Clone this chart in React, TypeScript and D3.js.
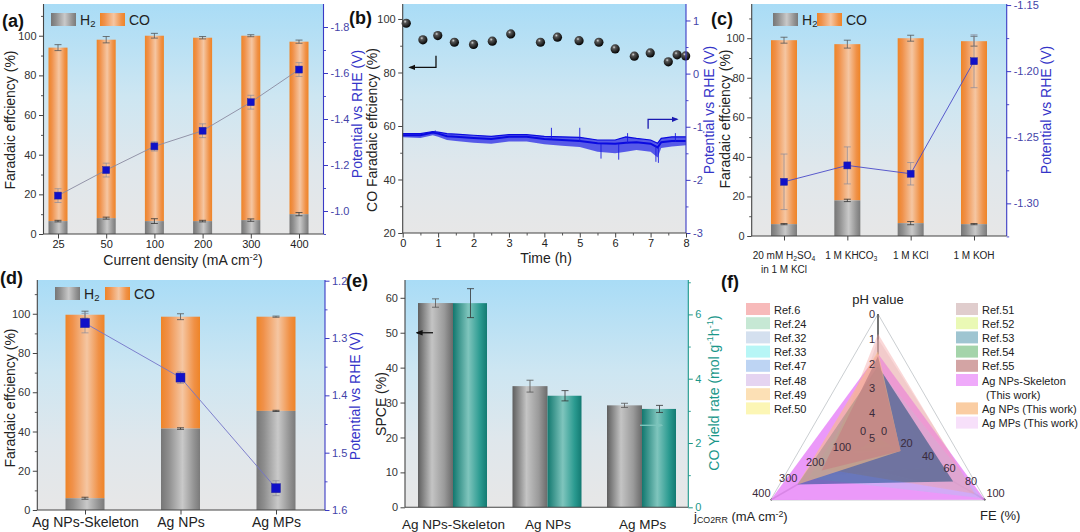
import React, { useEffect, useRef } from "react";
import * as d3 from "d3";

const FONT = "Arial, 'Liberation Sans', Helvetica, sans-serif";
const W = 1080;
const H = 532;

// ---------------- (a) ----------------
const aCats = ["25", "50", "100", "200", "300", "400"];
const aH2 = [6.5, 8, 6.5, 6.5, 7, 10];
const aTotal = [94, 98, 100, 99, 100, 97];
const aH2Err = [0.4, 0.5, 1.2, 0.4, 0.6, 0.8];
const aTotErr = [1.5, 1.6, 1.2, 0.6, 0.5, 0.8];
const aPot = [-1.067, -1.178, -1.281, -1.349, -1.473, -1.615];
const aPotErr = [0.03, 0.03, 0.02, 0.03, 0.03, 0.03];
const aLeftTicks = [0, 20, 40, 60, 80, 100];
const aRightTicks = [-1.0, -1.2, -1.4, -1.6, -1.8];

// ---------------- (b) ----------------
const bTime = [0.1, 0.57, 0.99, 1.46, 2.0, 2.53, 3.05, 3.89, 4.37, 4.98, 5.54, 6.0, 6.54, 6.99, 7.5, 7.75, 7.99];
const bFE = [98.4, 92.2, 93.8, 91.3, 90.5, 91.7, 94.4, 91.3, 93.2, 91.9, 91.3, 88.8, 86.1, 87.3, 84.0, 86.6, 86.2];
const bBandT = [0, 0.5, 0.85, 1.0, 1.25, 1.5, 2.0, 2.5, 3.0, 3.5, 4.0, 4.5, 5.0, 5.5, 6.0, 6.3, 6.6, 7.0, 7.2, 7.3, 7.6, 8.0];
const bBandHi = [-1.13, -1.13, -1.09, -1.1, -1.13, -1.14, -1.16, -1.18, -1.15, -1.15, -1.18, -1.19, -1.2, -1.25, -1.25, -1.19, -1.22, -1.25, -1.31, -1.22, -1.19, -1.19];
const bBandMid = [-1.16, -1.16, -1.11, -1.13, -1.18, -1.19, -1.21, -1.23, -1.19, -1.19, -1.23, -1.25, -1.27, -1.31, -1.32, -1.3, -1.29, -1.32, -1.39, -1.29, -1.27, -1.27];
const bBandLo = [-1.2, -1.21, -1.16, -1.19, -1.25, -1.27, -1.3, -1.32, -1.28, -1.28, -1.33, -1.36, -1.38, -1.47, -1.5, -1.47, -1.44, -1.47, -1.58, -1.4, -1.37, -1.35];
const bSpikeT = [0.92, 4.2, 5.0, 5.6, 6.1, 6.35, 7.15, 7.22, 7.7];
const bSpikeFrom = [-1.12, -1.24, -1.28, -1.32, -1.32, -1.31, -1.36, -1.4, -1.28];
const bSpikeTo = [-1.07, -1.02, -1.02, -1.6, -1.62, -1.12, -1.66, -1.68, -1.12];
const bLeftTicks = [20, 40, 60, 80, 100];
const bRightTicks = [-3, -2, -1, 0, 1];
const bTimeTicks = [0, 1, 2, 3, 4, 5, 6, 7, 8];
// annotation arrows: [t, value] in data coordinates
const bArrowLeft = [[0.94, 86.3], [0.94, 81.9], [0.2, 81.9]];
const bArrowRight = [[6.93, -1.04], [6.93, -0.86], [7.75, -0.86]];

// ---------------- (c) ----------------
const cCats = ["H2SO4", "KHCO3", "KCl", "KOH"];
const cH2 = [6, 18, 6.5, 6];
const cTotal = [99, 97, 100, 98.5];
const cH2Err = [0.3, 0.6, 0.8, 0.3];
const cTotErr = [1.5, 2, 1.5, 2.5];
const cPot = [-1.2837, -1.2713, -1.2776, -1.1925];
const cPotErr = [0.021, 0.014, 0.0085, 0.02];
const cRightTicks = [-1.3, -1.25, -1.2, -1.15];

// ---------------- (d) ----------------
const dCats = ["Ag NPs-Skeleton", "Ag NPs", "Ag MPs"];
const dH2 = [6, 41.5, 50.5];
const dTotal = [99.5, 98.5, 98.5];
const dH2Err = [0.5, 0.4, 0.3];
const dTotErr = [1.8, 1.5, 0.3];
const dPot = [1.274, 1.369, 1.562];
const dPotErr = [0.017, 0.01, 0.013];
const dRightTicks = [1.2, 1.3, 1.4, 1.5, 1.6];

// ---------------- (e) ----------------
const eCats = ["Ag NPs-Skeleton", "Ag NPs", "Ag MPs"];
const eSPCE = [58.5, 34.7, 29.2];
const eSPCEErr = [1.2, 1.7, 0.6];
const eYield = [6.35, 3.47, 3.06];
const eYieldErr = [0.45, 0.16, 0.11];
const eLeftTicks = [0, 10, 20, 30, 40, 50, 60];
const eRightTicks = [0, 2, 4, 6];

// ---------------- (f) ----------------
const fNames = ["Ref.6", "Ref.24", "Ref.32", "Ref.33", "Ref.47", "Ref.48", "Ref.49", "Ref.50", "Ref.51", "Ref.52", "Ref.53", "Ref.54", "Ref.55", "Ag NPs-Skeleton", "Ag NPs (This work)", "Ag MPs (This work)"];
const fPH = [0.8, 7, 7.2, 6.8, 2.2, 7, 7.5, 7, 1.0, 8, 2.1, 7, 1.7, 1.6, 1.5, 1.6];
const fJ = [200, 80, 100, 60, 260, 90, 70, 50, 150, 100, 300, 85, 210, 400, 300, 250];
const fFE = [90, 15, 18, 12, 97, 16, 14, 10, 93, 20, 70, 18, 21, 99.5, 21, 48];
const fPalette = ["#f4a3a3", "#b3e0c6", "#c6d6ea", "#9ff3f3", "#a7c6ef", "#dcc6ec", "#fbd59c", "#fbf39c", "#d6bcbc", "#e3f79c", "#7fb2c2", "#86c58e", "#c48686", "#e98ef8", "#f8bc84", "#f4d6f8"];
const fAlpha = [0.42, 0.3, 0.3, 0.3, 0.38, 0.3, 0.3, 0.3, 0.35, 0.3, 1, 0.3, 0.85, 0.9, 0.6, 0.35];
const fBlend = ["normal", "normal", "normal", "normal", "normal", "normal", "normal", "normal", "normal", "normal", "multiply", "normal", "normal", "normal", "normal", "normal"];
const fDrawOrder = [8, 15, 13, 4, 0, 1, 2, 3, 5, 6, 7, 9, 11, 10, 14, 12];
const fPHTicks = [0, 1, 2, 3, 4, 5];
const fJTicks = [0, 100, 200, 300, 400];
const fFETicks = [0, 20, 40, 60, 80, 100];

// ----------------------------------------------------------------
const BLUE_AX = "#3a3ac4";
const BLUE_TX = "#4343a8";
const TEAL = "#1a978a";

function rich(sel: any, parts: any[]) {
  parts.forEach((p: any) => {
    const [t, k] = Array.isArray(p) ? p : [p, null];
    const ts = sel.append("tspan").text(t);
    if (k === "sub") ts.attr("font-size", "68%").attr("baseline-shift", "-22%");
    if (k === "sup") ts.attr("font-size", "68%").attr("baseline-shift", "48%");
  });
  return sel;
}

function txt(g: any, x: number, y: number, parts: any[], o: any = {}) {
  const t = g.append("text")
    .attr("x", x).attr("y", y)
    .attr("font-family", FONT)
    .attr("font-size", o.size ?? 14)
    .attr("fill", o.color ?? "#222")
    .attr("text-anchor", o.anchor ?? "start");
  if (o.weight) t.attr("font-weight", o.weight);
  if (o.rotate) {
    t.attr("x", 0).attr("y", 0).attr("transform", `translate(${x},${y}) rotate(${o.rotate})`).attr("dominant-baseline", "central");
  }
  rich(t, parts);
  return t;
}

function makeGen(kind: string, scale: any) {
  return kind === "left" ? d3.axisLeft(scale) : kind === "right" ? d3.axisRight(scale) : d3.axisBottom(scale);
}

function axis(g: any, kind: string, scale: any, pos: number, o: any) {
  const tr = kind === "bottom" ? `translate(0,${pos})` : `translate(${pos},0)`;
  if (o.minor) {
    const m = makeGen(kind, scale).tickValues(o.minor).tickSizeInner(2.5).tickSizeOuter(0).tickFormat(() => "");
    const mg = g.append("g").attr("transform", tr).call(m);
    mg.select(".domain").remove();
    mg.selectAll(".tick line").attr("stroke", o.color).attr("stroke-width", 0.9);
  }
  if (o.ticks) {
    const gen = makeGen(kind, scale).tickValues(o.ticks).tickSizeInner(o.len ?? 4.5).tickSizeOuter(0).tickPadding(o.pad ?? 2.5);
    if (o.fmt) gen.tickFormat(o.fmt);
    const a = g.append("g").attr("transform", tr).call(gen);
    a.select(".domain").remove();
    a.selectAll(".tick line").attr("stroke", o.color).attr("stroke-width", 1);
    if (o.noTickLines) a.selectAll(".tick line").remove();
    a.selectAll(".tick text").attr("fill", o.text ?? o.color).attr("font-size", o.size ?? 11).attr("font-family", FONT);
    if (o.noLabels) a.selectAll(".tick text").remove();
  }
  const [e0, e1] = o.extent;
  if (kind === "bottom") {
    g.append("line").attr("x1", e0).attr("x2", e1).attr("y1", pos).attr("y2", pos).attr("stroke", o.color).attr("stroke-width", 1.1);
  } else {
    g.append("line").attr("x1", pos).attr("x2", pos).attr("y1", e0).attr("y2", e1).attr("stroke", o.color).attr("stroke-width", 1.1);
  }
}

function errBar(g: any, cx: number, v: number, e: number, scale: any, color: string, cap: number, w = 0.8) {
  const y1 = scale(v - e);
  const y2 = scale(v + e);
  g.append("line").attr("x1", cx).attr("x2", cx).attr("y1", y1).attr("y2", y2).attr("stroke", color).attr("stroke-width", w);
  [y1, y2].forEach((yy) =>
    g.append("line").attr("x1", cx - cap).attr("x2", cx + cap).attr("y1", yy).attr("y2", yy).attr("stroke", color).attr("stroke-width", w)
  );
}

function legendH2CO(g: any, x: number, y: number, coOff: number) {
  g.append("rect").attr("x", x).attr("y", y).attr("width", 25).attr("height", 13).attr("fill", "url(#grayBar)");
  txt(g, x + 29, y + 12, ["H", ["2", "sub"]], { size: 14 });
  g.append("rect").attr("x", x + coOff).attr("y", y).attr("width", 25).attr("height", 13).attr("fill", "url(#orangeBar)");
  txt(g, x + coOff + 29, y + 12, ["CO"], { size: 14 });
}

function stacked(root: any, c: any) {
  const g = root.append("g");
  const x = d3.scalePoint().domain(c.cats).range(c.xRange);
  const y = d3.scaleLinear().domain([0, c.yMax]).range([c.bottom, c.top]);
  const yr = d3.scaleLinear().domain(c.potDomain).range([c.bottom, c.top]);
  g.append("rect").attr("x", c.left).attr("y", c.top).attr("width", c.right - c.left).attr("height", c.bottom - c.top).attr("fill", "url(#bg)");
  const idx = c.cats.map((_: any, i: number) => i);
  g.selectAll("rect.co").data(idx).join("rect").attr("class", "co")
    .attr("x", (i: number) => (x(c.cats[i]) as number) - c.barW / 2)
    .attr("width", c.barW)
    .attr("y", (i: number) => y(c.total[i]))
    .attr("height", (i: number) => y(c.h2[i]) - y(c.total[i]))
    .attr("fill", "url(#orangeBar)");
  g.selectAll("rect.h2").data(idx).join("rect").attr("class", "h2")
    .attr("x", (i: number) => (x(c.cats[i]) as number) - c.barW / 2)
    .attr("width", c.barW)
    .attr("y", (i: number) => y(c.h2[i]))
    .attr("height", (i: number) => y(0) - y(c.h2[i]))
    .attr("fill", "url(#grayBar)");
  idx.forEach((i: number) => {
    const cx = x(c.cats[i]) as number;
    errBar(g, cx, c.total[i], c.totErr[i], y, "#555", 3.5);
    errBar(g, cx, c.h2[i], c.h2Err[i], y, "#333", 3.5);
  });
  const line = d3.line().x((i: any) => x(c.cats[i]) as number).y((i: any) => yr(c.pot[i]));
  g.append("path").attr("d", line(idx)).attr("fill", "none").attr("stroke", c.lineColor).attr("stroke-width", 0.9);
  idx.forEach((i: number) => errBar(g, x(c.cats[i]) as number, c.pot[i], c.potErr[i], yr, c.potErrColor, 3.5, 0.7));
  g.selectAll("rect.mk").data(idx).join("rect").attr("class", "mk")
    .attr("x", (i: number) => (x(c.cats[i]) as number) - c.mk / 2)
    .attr("y", (i: number) => yr(c.pot[i]) - c.mk / 2)
    .attr("width", c.mk).attr("height", c.mk)
    .attr("fill", "#1010c8").attr("stroke", "#2a2a9a").attr("stroke-width", 0.5);
  axis(g, "left", y, c.left, { ticks: c.leftTicks, minor: c.leftMinor, color: "#444", text: "#333", extent: [c.top, c.bottom] });
  axis(g, "right", yr, c.right, { ticks: c.rightTicks, minor: c.rightMinor, fmt: c.rightFmt, color: BLUE_AX, text: BLUE_TX, extent: [c.top, c.bottom] });
  axis(g, "bottom", x, c.bottom, { ticks: c.cats, color: "#444", text: "#222", size: c.xSize ?? 11, noLabels: c.noXLabels, extent: [c.left, c.right], pad: c.xPad ?? 1.5 });
  return { g, x, y, yr };
}

function draw(svg: any) {
  const defs = svg.append("defs");
  const lin = (id: string, stops: any[], vertical = false) => {
    const gr = defs.append("linearGradient").attr("id", id).attr("x1", 0).attr("y1", 0).attr("x2", vertical ? 0 : 1).attr("y2", vertical ? 1 : 0);
    stops.forEach(([o, col]: any) => gr.append("stop").attr("offset", o).attr("stop-color", col));
  };
  lin("bg", [[0, "#a9dcf6"], [0.4, "#cde6f2"], [0.7, "#dfe7ec"], [1, "#e7e7e7"]], true);
  lin("orangeBar", [[0, "#ee8427"], [0.18, "#f0914a"], [0.55, "#f5c6a2"], [0.85, "#f09146"], [1, "#ee8427"]]);
  lin("grayBar", [[0, "#767676"], [0.2, "#8f8f8f"], [0.55, "#c9c9c9"], [0.85, "#929292"], [1, "#7a7a7a"]]);
  lin("grayE", [[0, "#5e5e5e"], [0.4, "#c4c4c4"], [0.75, "#9a9a9a"], [1, "#6a6a6a"]]);
  lin("tealE", [[0, "#12786f"], [0.45, "#7fc5bd"], [0.8, "#2a9a90"], [1, "#137a72"]]);
  const rg = defs.append("radialGradient").attr("id", "sphere").attr("cx", 0.38).attr("cy", 0.32).attr("r", 0.7);
  [[0, "#d8d8d8"], [0.25, "#555"], [1, "#000"]].forEach(([o, col]) => rg.append("stop").attr("offset", o).attr("stop-color", col));
  const marker = (id: string, col: string) =>
    defs.append("marker").attr("id", id).attr("viewBox", "0 0 10 10").attr("refX", 8).attr("refY", 5)
      .attr("markerWidth", 7).attr("markerHeight", 7).attr("orient", "auto").attr("markerUnits", "userSpaceOnUse")
      .append("path").attr("d", "M0,1 L10,5 L0,9 Z").attr("fill", col);
  marker("arBlack", "#111");
  marker("arBlue", "#1a1ab0");
  marker("arTeal", "#7cc4bc");

  svg.append("rect").attr("width", W).attr("height", H).attr("fill", "#fff");

  // ============ (a) ============
  const A = stacked(svg, {
    cats: aCats, h2: aH2, total: aTotal, h2Err: aH2Err, totErr: aTotErr, pot: aPot, potErr: aPotErr,
    left: 43.5, right: 323.5, top: 4, bottom: 234, xRange: [58, 299], barW: 19, yMax: 116,
    potDomain: [-0.9, -1.9], leftTicks: aLeftTicks, leftMinor: [10, 30, 50, 70, 90, 110],
    rightTicks: aRightTicks, rightMinor: [-0.9, -1.1, -1.3, -1.5, -1.7], rightFmt: (d: number) => d.toFixed(1),
    lineColor: "#8a8aa0", potErrColor: "#8a8a9a", mk: 7,
  });
  legendH2CO(A.g, 51, 13, 49);
  txt(svg, 10, 120, ["Faradaic effciency (%)"], { rotate: -90, anchor: "middle", size: 14 });
  txt(svg, 357, 114, ["Potential vs RHE (V)"], { rotate: -90, anchor: "middle", size: 14, color: "#3434c8" });
  txt(svg, 183, 265, ["Current density (mA cm", ["-2", "sup"], ")"], { anchor: "middle", size: 14 });
  txt(svg, 2, 27, ["(a)"], { size: 18, weight: "bold", color: "#111" });

  // ============ (b) ============
  {
    const g = svg.append("g");
    const L = 402.7, R = 686, T = 4, B = 233;
    const x = d3.scaleLinear().domain([0, 8]).range([L, R]);
    const y = d3.scaleLinear().domain([20, 105.6]).range([B, T]);
    const yr = d3.scaleLinear().domain([-3, 1.31]).range([B, T]);
    g.append("rect").attr("x", L).attr("y", T).attr("width", R - L).attr("height", B - T).attr("fill", "url(#bg)");
    const bi = bBandT.map((_, i) => i);
    const area = d3.area().x((i: any) => x(bBandT[i])).y0((i: any) => yr(bBandLo[i])).y1((i: any) => yr(bBandHi[i]));
    g.append("path").attr("d", area(bi)).attr("fill", "#2323e6").attr("fill-opacity", 0.72);
    const mid = d3.line().x((i: any) => x(bBandT[i])).y((i: any) => yr(bBandMid[i]));
    g.append("path").attr("d", mid(bi)).attr("fill", "none").attr("stroke", "#0a0ae0").attr("stroke-width", 2);
    const hiL = d3.line().x((i: any) => x(bBandT[i])).y((i: any) => yr(bBandHi[i]));
    g.append("path").attr("d", hiL(bi)).attr("fill", "none").attr("stroke", "#0a0ae0").attr("stroke-width", 1.2);
    bSpikeT.forEach((t, i) => {
      g.append("line").attr("x1", x(t)).attr("x2", x(t)).attr("y1", yr(bSpikeFrom[i])).attr("y2", yr(bSpikeTo[i])).attr("stroke", "#1a1ae0").attr("stroke-width", 0.9);
    });
    g.selectAll("circle.fe").data(bTime.map((_, i) => i)).join("circle").attr("class", "fe")
      .attr("cx", (i: number) => x(bTime[i])).attr("cy", (i: number) => y(bFE[i])).attr("r", 4.6).attr("fill", "url(#sphere)");
    const arr = d3.line().x((p: any) => x(p[0])).y((p: any) => y(p[1]));
    g.append("path").attr("d", arr(bArrowLeft as any)).attr("fill", "none").attr("stroke", "#111").attr("stroke-width", 1.3).attr("marker-end", "url(#arBlack)");
    const arr2 = d3.line().x((p: any) => x(p[0])).y((p: any) => yr(p[1]));
    g.append("path").attr("d", arr2(bArrowRight as any)).attr("fill", "none").attr("stroke", "#1a1ab0").attr("stroke-width", 1.3).attr("marker-end", "url(#arBlue)");
    axis(g, "left", y, L, { ticks: bLeftTicks, minor: [30, 50, 70, 90], color: "#444", text: "#333", extent: [T, B] });
    axis(g, "right", yr, R, { ticks: bRightTicks, minor: [-2.5, -1.5, -0.5, 0.5], fmt: (d: number) => String(d), color: BLUE_AX, text: BLUE_TX, extent: [T, B] });
    axis(g, "bottom", x, B, { ticks: bTimeTicks, minor: [0.5, 1.5, 2.5, 3.5, 4.5, 5.5, 6.5, 7.5], color: "#444", text: "#222", extent: [L, R], pad: 1.5 });
    txt(svg, 372, 130, ["CO Faradaic effciency (%)"], { rotate: -90, anchor: "middle", size: 14 });
    txt(svg, 709, 110, ["Potential vs RHE (V)"], { rotate: -90, anchor: "middle", size: 14, color: "#3434c8" });
    txt(svg, 546, 263, ["Time (h)"], { anchor: "middle", size: 14 });
    txt(svg, 349, 24, ["(b)"], { size: 18, weight: "bold", color: "#111" });
  }

  // ============ (c) ============
  const C = stacked(svg, {
    cats: cCats, h2: cH2, total: cTotal, h2Err: cH2Err, totErr: cTotErr, pot: cPot, potErr: cPotErr,
    left: 751.7, right: 1006.7, top: 4, bottom: 236, xRange: [784, 974], barW: 26, yMax: 117.3,
    potDomain: [-1.3247, -1.1492], leftTicks: [0, 20, 40, 60, 80, 100], leftMinor: [10, 30, 50, 70, 90, 110],
    rightTicks: cRightTicks, rightMinor: [-1.325, -1.275, -1.225, -1.175], rightFmt: (d: number) => d.toFixed(2),
    lineColor: "#4a4ac8", potErrColor: "#8a8a9a", mk: 7, noXLabels: true,
  });
  legendH2CO(C.g, 773, 13, 44);
  {
    const labels: any[] = [
      [["20 mM H", ["2", "sub"], "SO", ["4", "sub"]], ["in 1 M KCl"]],
      [["1 M KHCO", ["3", "sub"]]],
      [["1 M KCl"]],
      [["1 M KOH"]],
    ];
    cCats.forEach((cat, i) => {
      const cx = (C.x(cat) as number) + (i === 1 ? 4 : 0);
      labels[i].forEach((ln: any, k: number) => txt(svg, cx, 259 + k * 14, ln, { anchor: "middle", size: 10 }));
    });
  }
  txt(svg, 725, 119, ["Faradaic effciency (%)"], { rotate: -90, anchor: "middle", size: 14 });
  txt(svg, 1046, 110, ["Potential vs RHE (V)"], { rotate: -90, anchor: "middle", size: 14, color: "#3434c8" });
  txt(svg, 711, 25, ["(c)"], { size: 18, weight: "bold", color: "#111" });

  // ============ (d) ============
  const D = stacked(svg, {
    cats: dCats, h2: dH2, total: dTotal, h2Err: dH2Err, totErr: dTotErr, pot: dPot, potErr: dPotErr,
    left: 37.3, right: 325, top: 280, bottom: 510, xRange: [85, 276], barW: 39, yMax: 117.2,
    potDomain: [1.6, 1.1988], leftTicks: [0, 20, 40, 60, 80, 100], leftMinor: [10, 30, 50, 70, 90, 110],
    rightTicks: dRightTicks, rightMinor: [1.25, 1.35, 1.45, 1.55], rightFmt: (d: number) => d.toFixed(1),
    lineColor: "#7474c8", potErrColor: "#8a8a9a", mk: 9, xSize: 14, xPad: 3,
  });
  legendH2CO(D.g, 55, 287, 50);
  txt(svg, 10, 398, ["Faradaic effciency (%)"], { rotate: -90, anchor: "middle", size: 14 });
  txt(svg, 355, 396, ["Potential vs RHE (V)"], { rotate: -90, anchor: "middle", size: 14, color: "#3434c8" });
  txt(svg, 0, 284, ["(d)"], { size: 18, weight: "bold", color: "#111" });

  // ============ (e) ============
  {
    const g = svg.append("g");
    const L = 405, R = 688.3, T = 280, B = 507.3;
    const x = d3.scalePoint().domain(eCats).range([453, 642]);
    const y = d3.scaleLinear().domain([0, 65.1]).range([B, T]);
    const yr = d3.scaleLinear().domain([0, 7.07]).range([B, T]);
    g.append("rect").attr("x", L).attr("y", T).attr("width", R - L).attr("height", B - T).attr("fill", "url(#bg)");
    const bw = 35;
    const ei = eCats.map((_, i) => i);
    g.selectAll("rect.sp").data(ei).join("rect").attr("class", "sp")
      .attr("x", (i: number) => (x(eCats[i]) as number) - bw).attr("width", bw)
      .attr("y", (i: number) => y(eSPCE[i])).attr("height", (i: number) => y(0) - y(eSPCE[i]))
      .attr("fill", "url(#grayE)");
    g.selectAll("rect.yl").data(ei).join("rect").attr("class", "yl")
      .attr("x", (i: number) => x(eCats[i]) as number).attr("width", bw - 1)
      .attr("y", (i: number) => yr(eYield[i])).attr("height", (i: number) => yr(0) - yr(eYield[i]))
      .attr("fill", "url(#tealE)");
    ei.forEach((i) => {
      const cx = x(eCats[i]) as number;
      errBar(g, cx - bw / 2, eSPCE[i], eSPCEErr[i], y, "#555", 3.5);
      errBar(g, cx + bw / 2, eYield[i], eYieldErr[i], yr, "#333", 3.5);
    });
    const c0 = x(eCats[0]) as number;
    g.append("line").attr("x1", c0 - 20).attr("x2", c0 - 36).attr("y1", y(50)).attr("y2", y(50)).attr("stroke", "#222").attr("stroke-width", 1.4).attr("marker-end", "url(#arBlack)");
    const c2 = x(eCats[2]) as number;
    g.append("line").attr("x1", c2 - 2).attr("x2", c2 + 20).attr("y1", yr(2.55)).attr("y2", yr(2.55)).attr("stroke", "#7cc4bc").attr("stroke-width", 1.4).attr("marker-end", "url(#arTeal)");
    axis(g, "left", y, L, { ticks: eLeftTicks, color: "#444", text: "#333", extent: [T, B] });
    axis(g, "right", yr, R, { ticks: eRightTicks, minor: [1, 3, 5, 7], fmt: (d: number) => String(d), color: TEAL, text: TEAL, extent: [T, B] });
    axis(g, "bottom", x, B, { ticks: eCats, color: "#444", text: "#222", size: 13.5, extent: [L, R], pad: 8, noTickLines: true });
    txt(svg, 381, 404, ["SPCE (%)"], { rotate: -90, anchor: "middle", size: 14 });
    txt(svg, 714, 393, ["CO Yield rate (mol g", ["-1", "sup"], "h", ["-1", "sup"], ")"], { rotate: -90, anchor: "middle", size: 14, color: TEAL });
    txt(svg, 346, 287, ["(e)"], { size: 18, weight: "bold", color: "#111" });
  }

  // ============ (f) ============
  {
    const g = svg.append("g");
    const cx = 878, cy = 438, Rr = 124;
    const angs = [-90, 150, 30].map((a) => (a * Math.PI) / 180);
    const rPH = d3.scaleLinear().domain([5, 0]).range([0, Rr]).clamp(true);
    const rJ = d3.scaleLinear().domain([0, 400]).range([0, Rr]).clamp(true);
    const rFE = d3.scaleLinear().domain([0, 100]).range([0, Rr]).clamp(true);
    const pt = (k: number, r: number) => [cx + r * Math.cos(angs[k]), cy + r * Math.sin(angs[k])];
    const verts = [pt(0, Rr), pt(1, Rr), pt(2, Rr)];
    g.append("path").attr("d", d3.line()([...verts, verts[0]] as any)).attr("fill", "none").attr("stroke", "#c4c8cc").attr("stroke-width", 0.9);
    verts.forEach((v) => g.append("line").attr("x1", cx).attr("y1", cy).attr("x2", v[0]).attr("y2", v[1]).attr("stroke", "#444").attr("stroke-width", 1.5));
    const pg = g.append("g").style("isolation", "isolate");
    fDrawOrder.forEach((i) => {
      const p = [pt(0, rPH(fPH[i])), pt(1, rJ(fJ[i])), pt(2, rFE(fFE[i]))];
      pg.append("path").attr("d", d3.line()([...p, p[0]] as any))
        .attr("fill", fPalette[i]).attr("fill-opacity", fAlpha[i]).attr("stroke", "none")
        .style("mix-blend-mode", fBlend[i]);
    });
    const lab = { size: 11, color: "#3a2a3a" };
    fPHTicks.forEach((v) => {
      const p = pt(0, rPH(v));
      txt(g, p[0] - 3, p[1] + 4, [String(v)], { ...lab, anchor: "end" });
    });
    fJTicks.forEach((v) => {
      const p = pt(1, rJ(v));
      txt(g, p[0] - (v === 0 ? 12 : 0), p[1] - 3, [String(v)], { ...lab, anchor: "end" });
    });
    fFETicks.forEach((v) => {
      const p = pt(2, rFE(v));
      txt(g, p[0] + (v === 0 ? 3 : 1), p[1] - 3, [String(v)], { ...lab, anchor: "start" });
    });
    txt(g, cx, 304, ["pH value"], { anchor: "middle", size: 13 });
    txt(g, 694, 521, ["j", ["CO2RR", "sub"], " (mA cm", ["-2", "sup"], ")"], { size: 13 });
    txt(g, 980, 520, ["FE (%)"], { size: 13 });
    const leftN = 8;
    fNames.forEach((n, i) => {
      const left = i < leftN;
      const row = left ? i : i - leftN + (i > 13 ? 1 : 0);
      const bx = left ? 746 : 956;
      const by = 303 + row * 14.2;
      g.append("rect").attr("x", bx).attr("y", by).attr("width", left ? 24 : 22).attr("height", 12).attr("fill", fPalette[i]).attr("fill-opacity", 0.75);
      txt(g, bx + (left ? 28 : 26), by + 10.5, [n], { size: 11, color: "#222" });
      if (n === "Ag NPs-Skeleton") txt(g, bx + 30, by + 10.5 + 14.2, ["(This work)"], { size: 11, color: "#222" });
    });
    txt(svg, 721, 288, ["(f)"], { size: 18, weight: "bold", color: "#111" });
  }
}

export default function App() {
  const ref = useRef<SVGSVGElement>(null);
  useEffect(() => {
    const svg = d3.select(ref.current);
    svg.selectAll("*").remove();
    draw(svg);
  }, []);
  return (
    <div style={{ position: "absolute", left: 0, top: 0 }}>
      <svg ref={ref} width={W} height={H} style={{ display: "block" }} />
    </div>
  );
}
